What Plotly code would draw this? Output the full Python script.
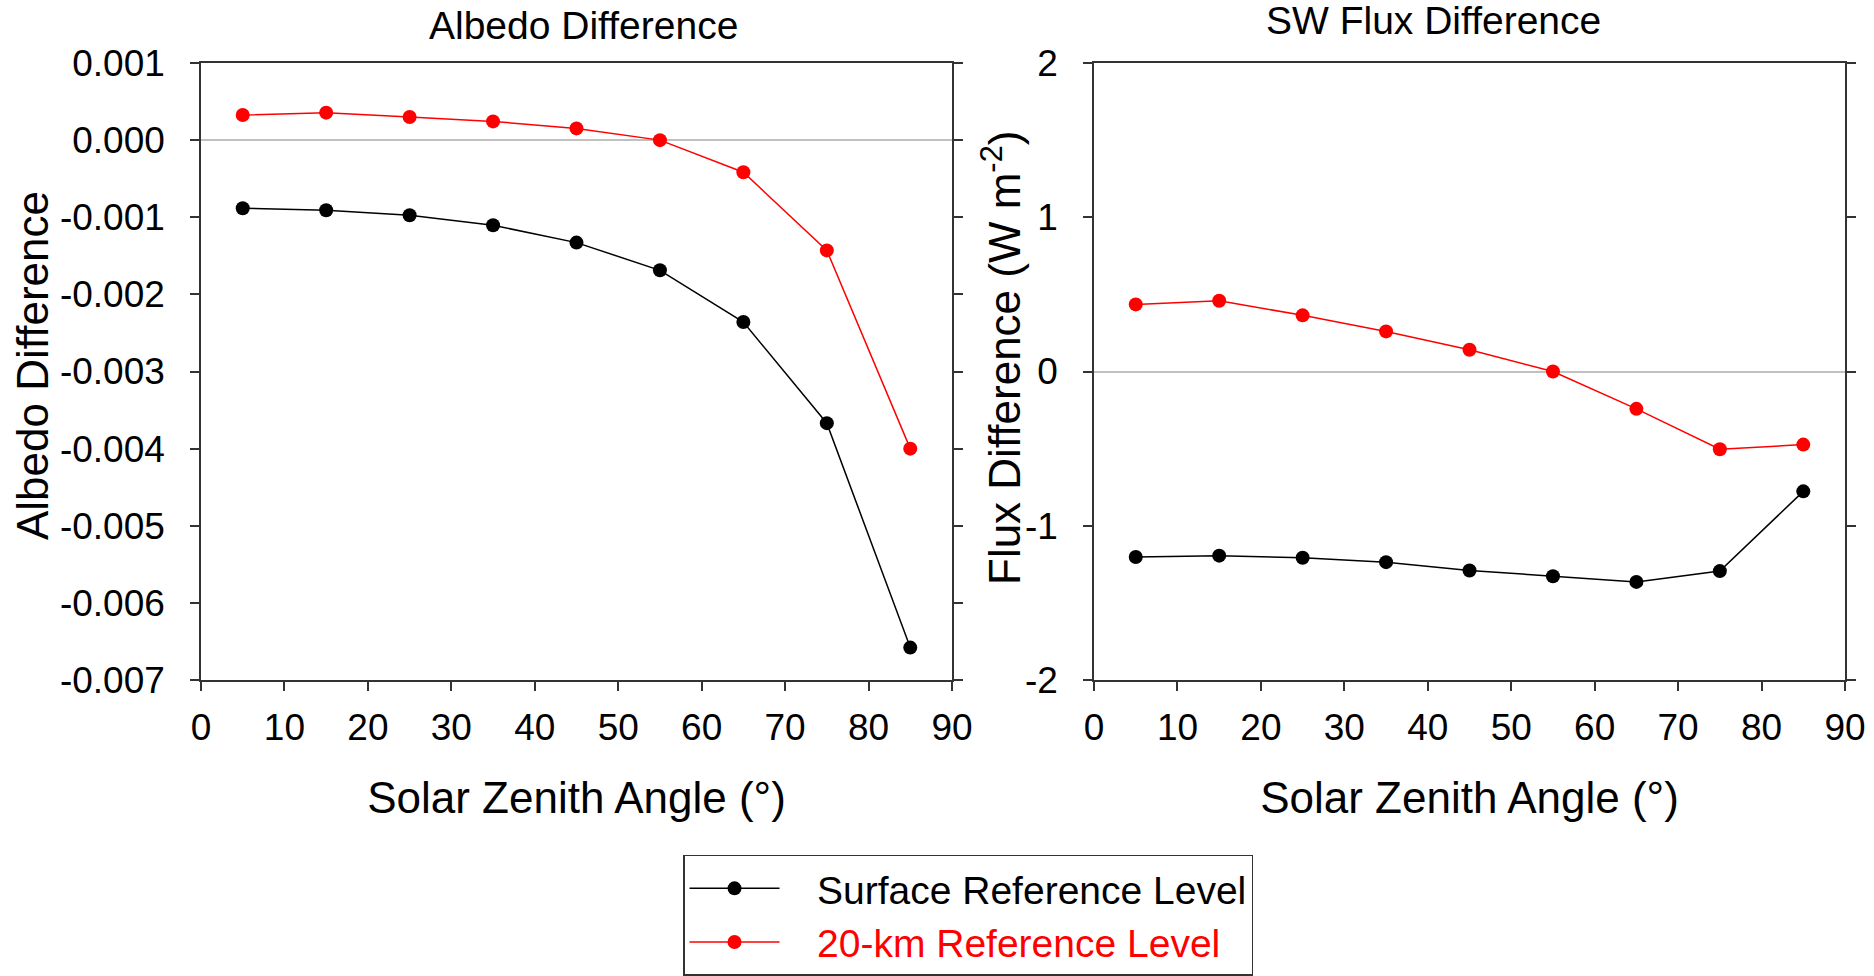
import plotly.graph_objects as go

# ---- data ----
sza = [5, 15, 25, 35, 45, 55, 65, 75, 85]

albedo_surface = [-0.000883, -0.000909, -0.000974, -0.001104, -0.001329,
                  -0.001688, -0.002359, -0.00367, -0.00658]
albedo_20km = [0.000325, 0.000356, 0.000299, 0.000243, 0.000152,
               0.0, -0.000416, -0.00143, -0.0040]

flux_surface = [-1.203, -1.194, -1.207, -1.236, -1.29, -1.327, -1.364, -1.294, -0.777]
flux_20km = [0.435, 0.459, 0.364, 0.26, 0.141, 0.0, -0.242, -0.504, -0.474]

x_ticks = [0, 10, 20, 30, 40, 50, 60, 70, 80, 90]
albedo_ticks = [0.001, 0.0, -0.001, -0.002, -0.003, -0.004, -0.005, -0.006, -0.007]
albedo_ticktext = ["0.001", "0.000", "-0.001", "-0.002", "-0.003", "-0.004",
                   "-0.005", "-0.006", "-0.007"]
flux_ticks = [2, 1, 0, -1, -2]
flux_ticktext = ["2", "1", "0", "-1", "-2"]

name_surface = "Surface Reference Level"
name_20km = "20-km Reference Level"

FONT = "Arial, 'Liberation Sans', Helvetica, sans-serif"
AX = "#333333"
PAD = "\u00a0\u00a0\u00a0"

fig = go.Figure()

fig.add_trace(go.Scatter(x=sza, y=albedo_surface, mode="lines+markers",
                         name=PAD + name_surface,
                         line=dict(color="black", width=1.5),
                         marker=dict(color="black", size=14),
                         xaxis="x", yaxis="y", legendgroup="s"))
fig.add_trace(go.Scatter(x=sza, y=albedo_20km, mode="lines+markers",
                         name=PAD + '<span style="color:red">' + name_20km + '</span>',
                         line=dict(color="red", width=1.5),
                         marker=dict(color="red", size=14),
                         xaxis="x", yaxis="y", legendgroup="r"))
fig.add_trace(go.Scatter(x=sza, y=flux_surface, mode="lines+markers", name=name_surface,
                         line=dict(color="black", width=1.5),
                         marker=dict(color="black", size=14),
                         xaxis="x2", yaxis="y2", showlegend=False, legendgroup="s"))
fig.add_trace(go.Scatter(x=sza, y=flux_20km, mode="lines+markers", name=name_20km,
                         line=dict(color="red", width=1.5),
                         marker=dict(color="red", size=14),
                         xaxis="x2", yaxis="y2", showlegend=False, legendgroup="r"))

xcommon = dict(range=[0, 90], tickvals=x_ticks, ticks="outside", ticklen=9, tickwidth=1.5,
               tickcolor=AX, showline=True, linecolor=AX, linewidth=1.5, mirror=True,
               showgrid=False, zeroline=False, tickfont=dict(size=37, color="black"),
               ticklabelstandoff=5,
               title=dict(text="Solar Zenith Angle (°)", font=dict(size=44, color="black"),
                          standoff=35))
ycommon = dict(ticks="outside", ticklen=9, tickwidth=1.5, tickcolor=AX, showline=True,
               linecolor=AX, linewidth=1.5, mirror="ticks", showgrid=False,
               zeroline=True, zerolinecolor="#c0c0c0", zerolinewidth=2,
               tickfont=dict(size=37, color="black"), ticklabelstandoff=18)

fig.update_layout(
    width=1874, height=976,
    margin=dict(l=201, r=29, t=63, b=296, autoexpand=False),
    paper_bgcolor="white", plot_bgcolor="white",
    font=dict(family=FONT, color="black"),
    xaxis=dict(domain=[0, 0.4568], anchor="y", **xcommon),
    xaxis2=dict(domain=[0.5432, 1], anchor="y2", **xcommon),
    yaxis=dict(domain=[0, 1], anchor="x", range=[-0.007, 0.001],
               tickvals=albedo_ticks, ticktext=albedo_ticktext, **ycommon),
    yaxis2=dict(domain=[0, 1], anchor="x2", range=[-2, 2],
                tickvals=flux_ticks, ticktext=flux_ticktext, **ycommon),
    showlegend=True,
    legend=dict(x=0.2932, y=-0.2836, xanchor="left", yanchor="top",
                bordercolor="#333333", borderwidth=1.5, bgcolor="white",
                font=dict(size=39, color="black"), itemwidth=90,
                tracegroupgap=0),
    annotations=[
        dict(text="Albedo Difference", x=583, y=26, font=dict(size=39, color="black")),
        dict(text="SW Flux Difference", x=1433, y=20, font=dict(size=39, color="black")),
        dict(text="Albedo Difference", x=32, y=366, textangle=-90,
             font=dict(size=44, color="black")),
        dict(text="Flux Difference (W m<sup>-2</sup>)", x=1001, y=358, textangle=-90,
             font=dict(size=44, color="black")),
    ],
)

# convert annotation pixel positions to paper coordinates
pw = 1874 - 201 - 29
ph = 976 - 63 - 296
for a in fig.layout.annotations:
    a.x = (a.x - 201) / pw
    a.y = (976 - 296 - a.y) / ph
    a.xref = "paper"
    a.yref = "paper"
    a.showarrow = False
    a.xanchor = "center"
    a.yanchor = "middle"

fig.write_html("out.html")
